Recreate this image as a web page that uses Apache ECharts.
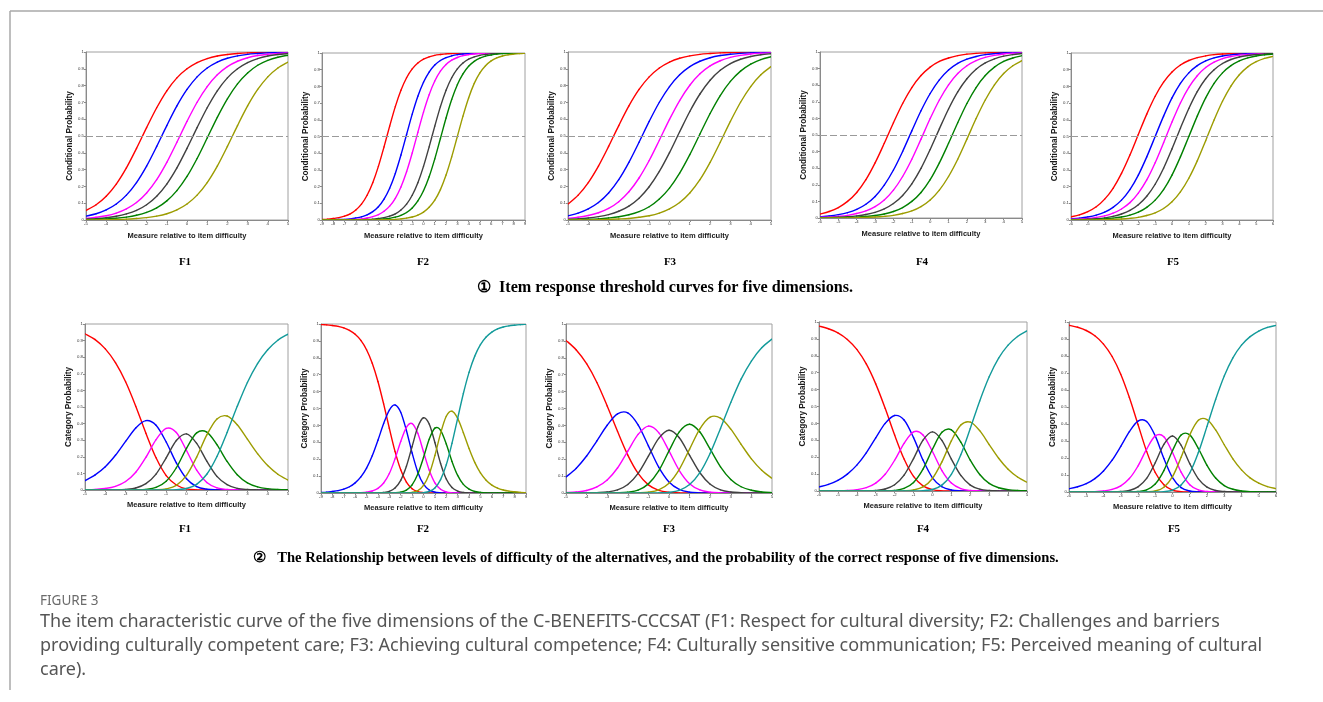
<!DOCTYPE html>
<html><head><meta charset="utf-8">
<script src="https://cdn.jsdelivr.net/npm/echarts@6/dist/echarts.min.js"></script>
<style>html,body{margin:0;padding:0;background:#fff;}#c{width:1323px;height:702px;}</style>
</head><body><div id="c"></div>
<script>
// ---------- x ranges (measure relative to item difficulty), sampled every 0.5 ----------
const xRangeF1 = [-5, 5];
const xRangeF2 = [-9, 9];
const xRangeF3 = [-5, 5];
const xRangeF4 = [-6, 5];
const xRangeF5 = [-6, 6];
const xStep = 0.5;
const panelNames = ['F1', 'F2', 'F3', 'F4', 'F5'];
const yTicks = [0, 0.1, 0.2, 0.3, 0.4, 0.5, 0.6, 0.7, 0.8, 0.9, 1];

// ---------- ① threshold (conditional probability) curves ----------
const thr1_1 = [.057,.091,.142,.214,.310,.426,.550,.668,.769,.846,.900,.937,.961,.976,.985,.991,.995,.997,.998,.999,.999];
const thr1_2 = [.023,.037,.060,.095,.148,.223,.321,.438,.562,.679,.777,.852,.905,.940,.963,.977,.986,.991,.995,.997,.998];
const thr1_3 = [.009,.016,.025,.041,.066,.104,.161,.240,.343,.463,.587,.701,.794,.864,.913,.945,.966,.979,.987,.992,.995];
const thr1_4 = [.005,.008,.013,.022,.036,.057,.091,.142,.214,.310,.426,.550,.668,.769,.846,.900,.937,.961,.976,.985,.991];
const thr1_5 = [.002,.004,.006,.010,.017,.028,.045,.072,.114,.175,.259,.366,.488,.611,.721,.810,.875,.921,.950,.969,.981];
const thr1_6 = [.001,.001,.002,.003,.005,.009,.014,.023,.037,.060,.095,.148,.223,.321,.438,.562,.679,.777,.852,.905,.940];

const thr2_1 = [.003,.005,.009,.014,.023,.037,.060,.095,.148,.223,.321,.438,.562,.679,.777,.852,.905,.940,.963,.977,.986,.991,.995,.997,.998,.999,.999,1,1,1,1,1,1,1,1,1,1];
const thr2_2 = [.001,.001,.002,.003,.004,.007,.012,.019,.031,.050,.079,.125,.190,.279,.389,.512,.634,.741,.825,.886,.928,.955,.972,.983,.990,.994,.996,.998,.999,.999,1,1,1,1,1,1,1];
const thr2_3 = [0,0,.001,.001,.002,.003,.004,.007,.012,.020,.032,.052,.083,.130,.198,.289,.401,.525,.646,.750,.832,.891,.931,.957,.973,.984,.990,.994,.996,.998,.999,.999,1,1,1,1,1];
const thr2_4 = [0,0,0,0,0,.001,.001,.002,.003,.005,.009,.014,.023,.037,.060,.095,.148,.223,.321,.438,.562,.679,.777,.852,.905,.940,.963,.977,.986,.991,.995,.997,.998,.999,.999,1,1];
const thr2_5 = [0,0,0,0,0,0,0,.001,.001,.002,.004,.006,.010,.017,.028,.045,.072,.114,.175,.259,.366,.488,.611,.721,.810,.875,.921,.950,.969,.981,.988,.993,.996,.997,.998,.999,.999];
const thr2_6 = [0,0,0,0,0,0,0,0,0,.001,.001,.002,.002,.004,.007,.011,.018,.029,.047,.076,.119,.182,.269,.378,.500,.622,.731,.818,.881,.924,.953,.971,.982,.989,.993,.996,.998];

const thr3_1 = [.095,.148,.223,.321,.438,.562,.679,.777,.852,.905,.940,.963,.977,.986,.991,.995,.997,.998,.999,.999,1];
const thr3_2 = [.025,.041,.066,.104,.161,.240,.343,.463,.587,.701,.794,.864,.913,.945,.966,.979,.987,.992,.995,.997,.998];
const thr3_3 = [.010,.016,.027,.043,.069,.109,.168,.250,.354,.475,.599,.711,.802,.870,.917,.948,.968,.980,.988,.993,.995];
const thr3_4 = [.005,.007,.012,.020,.032,.052,.083,.130,.198,.289,.401,.525,.646,.750,.832,.891,.931,.957,.973,.984,.990];
const thr3_5 = [.002,.003,.004,.007,.012,.019,.031,.050,.079,.125,.190,.279,.389,.512,.634,.741,.825,.886,.928,.955,.972];
const thr3_6 = [0,.001,.001,.002,.004,.006,.009,.016,.025,.041,.066,.104,.161,.240,.343,.463,.587,.701,.794,.864,.913];

const thr4_1 = [.024,.039,.063,.100,.154,.231,.332,.450,.574,.690,.786,.858,.909,.943,.964,.978,.987,.992,.995,.997,.998,.999,.999];
const thr4_2 = [.007,.012,.020,.032,.052,.083,.130,.198,.289,.401,.525,.646,.750,.832,.891,.931,.957,.973,.984,.990,.994,.996,.998];
const thr4_3 = [.004,.006,.010,.016,.027,.043,.069,.109,.168,.250,.354,.475,.599,.711,.802,.870,.917,.948,.968,.980,.988,.993,.995];
const thr4_4 = [.002,.003,.005,.008,.013,.021,.034,.055,.087,.136,.206,.299,.413,.537,.657,.760,.839,.896,.934,.959,.975,.984,.991];
const thr4_5 = [.001,.001,.002,.003,.005,.009,.015,.024,.039,.063,.100,.154,.231,.332,.450,.574,.690,.786,.858,.909,.943,.964,.978];
const thr4_6 = [0,0,.001,.001,.002,.004,.006,.010,.016,.027,.043,.069,.109,.168,.250,.354,.475,.599,.711,.802,.870,.917,.948];

const thr5_1 = [.019,.031,.050,.079,.125,.190,.279,.389,.512,.634,.741,.825,.886,.928,.955,.972,.983,.990,.994,.996,.998,.999,.999,1,1];
const thr5_2 = [.007,.011,.018,.029,.047,.076,.119,.182,.269,.378,.500,.622,.731,.818,.881,.924,.953,.971,.982,.989,.993,.996,.998,.999,.999];
const thr5_3 = [.004,.006,.009,.016,.025,.041,.066,.104,.161,.240,.343,.463,.587,.701,.794,.864,.913,.945,.966,.979,.987,.992,.995,.997,.998];
const thr5_4 = [.002,.003,.005,.008,.013,.022,.036,.057,.091,.142,.214,.310,.426,.550,.668,.769,.846,.900,.937,.961,.976,.985,.991,.994,.997];
const thr5_5 = [.001,.002,.002,.004,.007,.011,.018,.029,.047,.076,.119,.182,.269,.378,.500,.622,.731,.818,.881,.924,.953,.971,.982,.989,.993];
const thr5_6 = [0,0,.001,.001,.002,.004,.006,.010,.016,.027,.043,.069,.109,.168,.250,.354,.475,.599,.711,.802,.870,.917,.948,.968,.980];

// ---------- ② category probability curves ----------
const cat1_0 = [.941,.906,.850,.767,.652,.505,.342,.194,.087,.030,.007,.001,0,0,0,0,0,0,0,0,0];
const cat1_1 = [.057,.091,.140,.209,.293,.374,.418,.390,.289,.163,.068,.021,.005,.001,0,0,0,0,0,0,0];
const cat1_2 = [.001,.004,.009,.022,.051,.107,.197,.303,.371,.346,.238,.120,.045,.013,.003,.001,0,0,0,0,0];
const cat1_3 = [0,0,0,.001,.004,.012,.038,.096,.194,.298,.338,.281,.174,.082,.032,.010,.003,.001,0,0,0];
const cat1_4 = [0,0,0,0,0,.001,.004,.016,.053,.134,.251,.344,.349,.273,.172,.092,.043,.019,.008,.003,.001];
const cat1_5 = [0,0,0,0,0,0,0,.001,.007,.028,.088,.198,.332,.428,.446,.393,.306,.219,.147,.095,.060];
const cat1_6 = [0,0,0,0,0,0,0,0,0,.002,.009,.034,.095,.202,.347,.504,.648,.762,.845,.902,.939];

const cat2_0 = [.997,.995,.991,.986,.977,.962,.939,.903,.848,.768,.660,.527,.383,.246,.137,.064,.025,.008,.002,0,0,0,0,0,0,0,0,0,0,0,0,0,0,0,0,0,0];
const cat2_1 = [.003,.005,.009,.014,.023,.037,.060,.095,.147,.220,.312,.411,.491,.521,.478,.370,.237,.123,.052,.018,.005,.001,0,0,0,0,0,0,0,0,0,0,0,0,0,0,0];
const cat2_2 = [0,0,0,0,0,0,.001,.002,.005,.012,.027,.059,.115,.202,.305,.389,.411,.353,.244,.136,.060,.022,.006,.001,0,0,0,0,0,0,0,0,0,0,0,0,0];
const cat2_3 = [0,0,0,0,0,0,0,0,0,0,.001,.003,.010,.030,.075,.158,.275,.390,.445,.408,.299,.175,.083,.032,.011,.003,.001,0,0,0,0,0,0,0,0,0,0];
const cat2_4 = [0,0,0,0,0,0,0,0,0,0,0,0,0,.001,.005,.017,.048,.112,.210,.318,.384,.371,.290,.187,.104,.051,.023,.009,.004,.001,0,0,0,0,0,0,0];
const cat2_5 = [0,0,0,0,0,0,0,0,0,0,0,0,0,0,0,.001,.004,.014,.045,.111,.222,.353,.454,.484,.442,.357,.263,.181,.119,.076,.047,.029,.018,.011,.007,.004,.002];
const cat2_6 = [0,0,0,0,0,0,0,0,0,0,0,0,0,0,0,0,0,0,.002,.009,.030,.079,.167,.294,.442,.589,.714,.810,.878,.923,.952,.971,.982,.989,.993,.996,.998];

const cat3_0 = [.903,.846,.765,.654,.515,.365,.224,.116,.048,.016,.004,.001,0,0,0,0,0,0,0,0,0];
const cat3_1 = [.095,.147,.219,.309,.401,.468,.474,.403,.279,.153,.065,.021,.005,.001,0,0,0,0,0,0,0];
const cat3_2 = [.002,.006,.015,.036,.077,.148,.248,.347,.396,.357,.249,.133,.055,.018,.005,.001,0,0,0,0,0];
const cat3_3 = [0,0,0,.002,.006,.018,.050,.116,.218,.323,.371,.327,.223,.120,.052,.019,.006,.002,0,0,0];
const cat3_4 = [0,0,0,0,0,.001,.005,.017,.054,.131,.249,.362,.407,.361,.259,.155,.080,.037,.016,.006,.002];
const cat3_5 = [0,0,0,0,0,0,0,.001,.005,.019,.058,.140,.260,.380,.449,.443,.378,.288,.202,.135,.087];
const cat3_6 = [0,0,0,0,0,0,0,0,0,.001,.004,.016,.050,.120,.235,.382,.536,.674,.781,.859,.911];

const cat4_0 = [.976,.960,.936,.897,.838,.752,.634,.489,.331,.189,.086,.030,.008,.001,0,0,0,0,0,0,0,0,0];
const cat4_1 = [.024,.039,.063,.100,.153,.226,.315,.400,.447,.420,.316,.183,.078,.025,.006,.001,0,0,0,0,0,0,0];
const cat4_2 = [0,0,.001,.003,.008,.020,.047,.099,.182,.282,.350,.332,.234,.121,.047,.014,.003,.001,0,0,0,0,0];
const cat4_3 = [0,0,0,0,0,.001,.003,.012,.037,.094,.192,.301,.350,.299,.189,.092,.035,.011,.003,.001,0,0,0];
const cat4_4 = [0,0,0,0,0,0,0,.001,.003,.015,.050,.129,.247,.347,.362,.289,.183,.098,.045,.019,.008,.003,.001];
const cat4_5 = [0,0,0,0,0,0,0,0,0,.001,.006,.024,.074,.172,.297,.390,.408,.357,.275,.194,.129,.083,.052];
const cat4_6 = [0,0,0,0,0,0,0,0,0,0,0,.002,.009,.035,.099,.214,.370,.533,.676,.786,.863,.914,.947];

const cat5_0 = [.981,.969,.950,.919,.870,.797,.693,.556,.397,.239,.115,.042,.011,.002,0,0,0,0,0,0,0,0,0,0,0];
const cat5_1 = [.019,.031,.049,.079,.124,.187,.268,.355,.417,.415,.330,.197,.085,.026,.006,.001,0,0,0,0,0,0,0,0,0];
const cat5_2 = [0,0,.001,.002,.006,.015,.036,.079,.153,.252,.330,.325,.232,.117,.043,.012,.003,.001,0,0,0,0,0,0,0];
const cat5_3 = [0,0,0,0,0,.001,.003,.009,.030,.080,.172,.280,.329,.275,.167,.077,.029,.009,.003,.001,0,0,0,0,0];
const cat5_4 = [0,0,0,0,0,0,0,.001,.003,.013,.047,.126,.243,.335,.336,.256,.157,.082,.038,.016,.006,.002,.001,0,0];
const cat5_5 = [0,0,0,0,0,0,0,0,0,.001,.006,.028,.090,.204,.336,.422,.426,.365,.278,.195,.130,.083,.052,.032,.020];
const cat5_6 = [0,0,0,0,0,0,0,0,0,0,0,.002,.011,.041,.112,.232,.386,.544,.682,.789,.864,.914,.947,.968,.980];

// ---------- assembly ----------
const xRanges = [xRangeF1, xRangeF2, xRangeF3, xRangeF4, xRangeF5];
const thrSets = [
  [thr1_1,thr1_2,thr1_3,thr1_4,thr1_5,thr1_6],
  [thr2_1,thr2_2,thr2_3,thr2_4,thr2_5,thr2_6],
  [thr3_1,thr3_2,thr3_3,thr3_4,thr3_5,thr3_6],
  [thr4_1,thr4_2,thr4_3,thr4_4,thr4_5,thr4_6],
  [thr5_1,thr5_2,thr5_3,thr5_4,thr5_5,thr5_6]
];
const catSets = [
  [cat1_0,cat1_1,cat1_2,cat1_3,cat1_4,cat1_5,cat1_6],
  [cat2_0,cat2_1,cat2_2,cat2_3,cat2_4,cat2_5,cat2_6],
  [cat3_0,cat3_1,cat3_2,cat3_3,cat3_4,cat3_5,cat3_6],
  [cat4_0,cat4_1,cat4_2,cat4_3,cat4_4,cat4_5,cat4_6],
  [cat5_0,cat5_1,cat5_2,cat5_3,cat5_4,cat5_5,cat5_6]
];
const curveColors = ['#ff0000','#0000ff','#ff00ff','#404040','#008000','#9c9c00','#129a9a'];

// plot-area rectangles [left, top, width, height]
const topRects = [[86,52,202,168],[322,53,203,167],[568,52,203,168],[820,52,202,166],[1071,53,202,167]];
const botRects = [[85,324,203,166],[321,324,205,169],[566,324,206,169],[819,322,208,169],[1069,322,207,170]];
const topLabelX = [185,423,670,922,1173];
const botLabelX = [185,423,669,923,1174];

const grids = [], xAxes = [], yAxes = [], series = [];
const axisFont = 'Liberation Sans, Arial, sans-serif';

// smooth curve through the read points (Catmull-Rom segments in pixel space, via the axes' scales)
function curveSeries(gi, pts, color) {
  return {
    type: 'custom', coordinateSystem: 'cartesian2d', xAxisIndex: gi, yAxisIndex: gi,
    data: pts, encode: {x: 0, y: 1}, clip: true, silent: true, animation: false, z: 3,
    renderItem: function (params, api) {
      const i = params.dataIndex, n = pts.length;
      if (i >= n - 1) return null;
      const c = k => api.coord(pts[Math.max(0, Math.min(n - 1, k))]);
      const p0 = c(i - 1), p1 = c(i), p2 = c(i + 1), p3 = c(i + 2);
      return {
        type: 'bezierCurve',
        shape: {
          x1: p1[0], y1: p1[1], x2: p2[0], y2: p2[1],
          cpx1: p1[0] + (p2[0] - p0[0]) / 6, cpy1: p1[1] + (p2[1] - p0[1]) / 6,
          cpx2: p2[0] - (p3[0] - p1[0]) / 6, cpy2: p2[1] - (p3[1] - p1[1]) / 6
        },
        style: {stroke: color, fill: null, lineWidth: 1.4, lineCap: 'round'}
      };
    }
  };
}

function addPanel(rect, range, sets, yName, isTop) {
  const gi = grids.length;
  grids.push({left: rect[0], top: rect[1], width: rect[2], height: rect[3],
    show: true, borderColor: '#a0a0a0', borderWidth: 1, backgroundColor: 'transparent'});
  xAxes.push({type: 'value', gridIndex: gi, min: range[0], max: range[1], interval: 1,
    axisLine: {show: true, onZero: false, lineStyle: {color: '#8a8a8a', width: 1}},
    axisTick: {show: true, length: 2, lineStyle: {color: '#8a8a8a'}},
    axisLabel: {fontSize: 4.3, color: '#333', margin: 2, fontFamily: axisFont,
      showMinLabel: true, showMaxLabel: true},
    splitLine: {show: false},
    name: 'Measure relative to item difficulty', nameLocation: 'middle', nameGap: isTop ? 12 : 11,
    nameTextStyle: {fontSize: 7.5, fontWeight: 'bold', fontFamily: axisFont, color: '#1a1a1a'}});
  yAxes.push({type: 'value', gridIndex: gi, min: yTicks[0], max: yTicks[yTicks.length-1], interval: 0.1,
    axisLine: {show: true, onZero: false, lineStyle: {color: '#8a8a8a', width: 1}},
    axisTick: {show: true, length: 2, lineStyle: {color: '#8a8a8a'}},
    axisLabel: {fontSize: 4.3, color: '#333', margin: 2, fontFamily: axisFont,
      formatter: v => String(Math.round(v * 10) / 10)},
    splitLine: {show: false},
    name: yName, nameLocation: 'middle', nameGap: 12,
    nameTextStyle: {fontSize: 8.2, fontWeight: 'bold', fontFamily: axisFont, color: '#1a1a1a'}});
  if (isTop) {
    // 0.5 reference line
    series.push({type: 'line', xAxisIndex: gi, yAxisIndex: gi, data: [], silent: true,
      markLine: {silent: true, symbol: 'none', animation: false, label: {show: false},
        lineStyle: {color: '#9a9a9a', type: [7, 3], width: 1.2}, data: [{yAxis: 0.5}]}});
  }
  sets.forEach((ys, k) => {
    const pts = ys.map((y, i) => [range[0] + i * xStep, y]);
    series.push(curveSeries(gi, pts, curveColors[k]));
  });
}

for (let p = 0; p < 5; p++) addPanel(topRects[p], xRanges[p], thrSets[p], 'Conditional Probability', true);
for (let p = 0; p < 5; p++) addPanel(botRects[p], xRanges[p], catSets[p], 'Category Probability', false);

const serif = 'Liberation Serif, Times New Roman, serif';
const graphics = [
  {type: 'line', shape: {x1: 10, y1: 11, x2: 1323, y2: 11}, style: {stroke: '#a8a8a8', lineWidth: 1.5}},
  {type: 'line', shape: {x1: 10, y1: 11, x2: 10, y2: 690}, style: {stroke: '#a8a8a8', lineWidth: 1.5}}
];
panelNames.forEach((n, i) => {
  graphics.push({type: 'text', x: topLabelX[i], y: 262, style: {text: n, fontSize: 11, fontWeight: 'bold', fontFamily: serif, fill: '#000', align: 'center', verticalAlign: 'middle'}});
  graphics.push({type: 'text', x: botLabelX[i], y: 529, style: {text: n, fontSize: 11, fontWeight: 'bold', fontFamily: serif, fill: '#000', align: 'center', verticalAlign: 'middle'}});
});
graphics.push({type: 'text', x: 665, y: 288, style: {text: '\u2460  Item response threshold curves for five dimensions.', fontSize: 16.2, fontWeight: 'bold', fontFamily: serif, fill: '#000', align: 'center', verticalAlign: 'middle'}});
graphics.push({type: 'text', x: 656, y: 558, style: {text: '\u2461   The Relationship between levels of difficulty of the alternatives, and the probability of the correct response of five dimensions.', fontSize: 14.6, fontWeight: 'bold', fontFamily: serif, fill: '#000', align: 'center', verticalAlign: 'middle'}});
const capFont = 'Noto Sans, Open Sans, sans-serif';
graphics.push({type: 'text', x: 40, y: 601, style: {text: 'FIGURE 3', fontSize: 13.5, fontFamily: capFont, fill: '#6b6b6b', align: 'left', verticalAlign: 'middle'}});
const capLines = [
  'The item characteristic curve of the five dimensions of the C-BENEFITS-CCCSAT (F1: Respect for cultural diversity; F2: Challenges and barriers',
  'providing culturally competent care; F3: Achieving cultural competence; F4: Culturally sensitive communication; F5: Perceived meaning of cultural',
  'care).'
];
capLines.forEach((t, i) => {
  graphics.push({type: 'text', x: 40, y: 622 + i * 24, style: {text: t, fontSize: 18, fontFamily: capFont, fill: '#555', align: 'left', verticalAlign: 'middle'}});
});

const chart = echarts.init(document.getElementById('c'), null, {renderer: 'canvas'});
chart.setOption({
  animation: false,
  backgroundColor: '#ffffff',
  grid: grids, xAxis: xAxes, yAxis: yAxes, series: series,
  graphic: graphics
});
</script></body></html>
